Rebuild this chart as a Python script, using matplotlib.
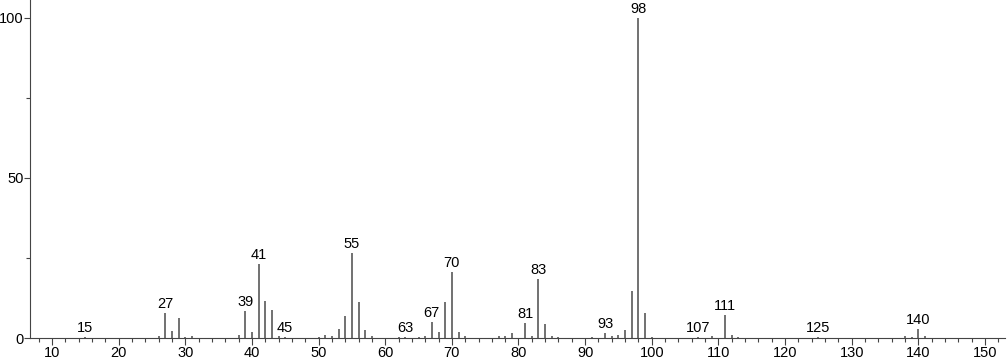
import matplotlib
matplotlib.use("Agg")
import matplotlib.pyplot as plt
from matplotlib.ticker import MultipleLocator

mz = [15, 26, 27, 28, 29, 30, 31, 38, 39, 40, 41, 42, 43, 44, 45,
      50, 51, 52, 53, 54, 55, 56, 57, 58, 62, 63, 65, 66, 67, 68, 69, 70, 71, 72,
      77, 78, 79, 81, 82, 83, 84, 85, 86, 91, 93, 94, 95, 96, 97, 98, 99, 100,
      107, 109, 111, 112, 113, 125, 138, 139, 140, 141]
intensity = [0.3, 0.7, 7.8, 2.2, 6.2, 0.3, 0.5, 0.8, 8.5, 1.9, 23.1, 11.6, 8.8, 0.5, 0.3,
             0.3, 1.0, 0.7, 2.8, 6.9, 26.5, 11.4, 2.6, 0.5, 0.3, 0.3, 0.3, 0.5, 4.9, 2.0, 11.4, 20.5, 1.8, 0.5,
             0.5, 0.5, 1.5, 4.8, 0.5, 18.3, 4.4, 0.5, 0.3, 0.3, 1.5, 0.5, 1.0, 2.5, 14.7, 100, 7.9, 0.3,
             0.3, 0.5, 7.1, 1.0, 0.3, 0.2, 0.5, 0.3, 2.7, 0.5]
labeled = [15, 27, 39, 41, 45, 55, 63, 67, 70, 81, 83, 93, 98, 107, 111, 125, 140]

plt.rcParams['font.family'] = ['Liberation Sans', 'DejaVu Sans']

fig = plt.figure(figsize=(10.07, 3.62), dpi=100)
ax = fig.add_axes([30/1007, 24/362, 975/1007, 338/362])

ax.vlines(mz, 0, intensity, colors='#4a4a4a', linewidth=1.1)

lookup = dict(zip(mz, intensity))
for m in labeled:
    ax.annotate(str(m), (m, lookup[m]), xytext=(0, 1.5), textcoords='offset points',
                ha='center', va='bottom', fontsize=10.5, color='black')

ax.set_xlim(6.7, 153)
ax.set_ylim(0, 105.6)
ax.xaxis.set_major_locator(MultipleLocator(10))
ax.xaxis.set_minor_locator(MultipleLocator(2))
ax.yaxis.set_major_locator(MultipleLocator(50))
ax.yaxis.set_minor_locator(MultipleLocator(25))
ax.tick_params(axis='x', which='major', length=5, width=0.8, color='#444444', labelsize=10.5, pad=1)
ax.tick_params(axis='y', which='major', length=4, width=0.8, color='#444444', labelsize=10.5, pad=0.5)
ax.tick_params(axis='both', which='minor', length=3, width=0.8, color='#444444')
for s in ['top', 'right']:
    ax.spines[s].set_visible(False)
for s in ['left', 'bottom']:
    ax.spines[s].set_color('#444444')
    ax.spines[s].set_linewidth(0.8)

fig.savefig('out.png', dpi=100)
